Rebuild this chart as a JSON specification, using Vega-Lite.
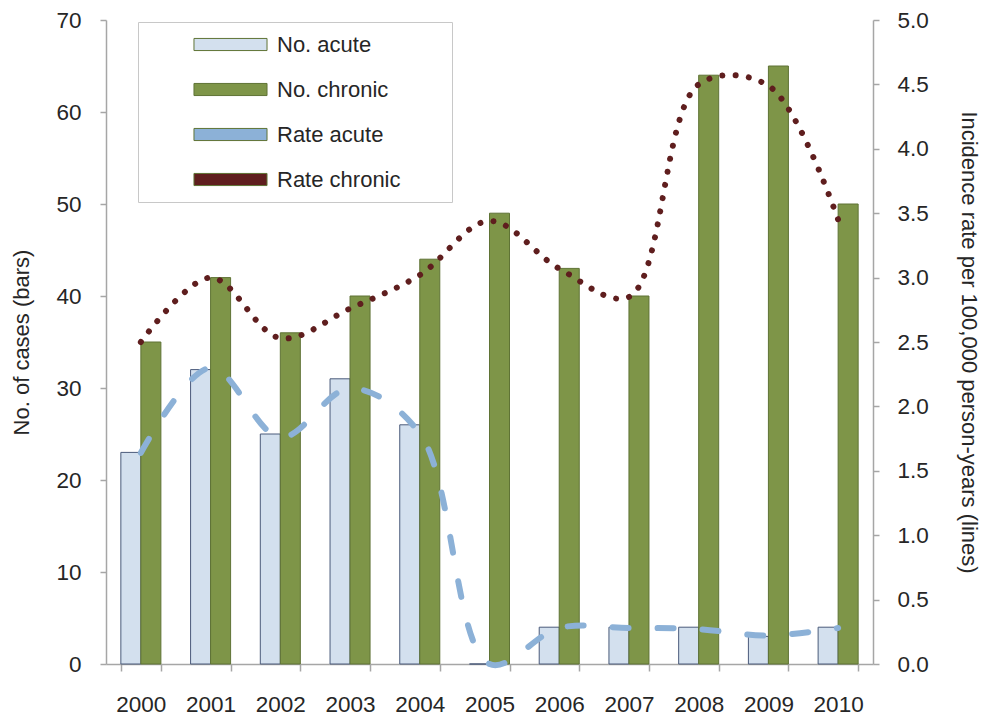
{
  "$schema": "https://vega.github.io/schema/vega-lite/v6.json",
  "width": 767,
  "height": 644,
  "autosize": {"type": "none"},
  "padding": {"left": 106, "top": 20, "right": 109, "bottom": 53},
  "background": "white",
  "config": {
    "view": {"stroke": null},
    "font": "Liberation Sans",
    "axis": {
      "labelFont": "Liberation Sans",
      "labelFontSize": 22.5,
      "labelColor": "#262626",
      "titleFont": "Liberation Sans",
      "titleFontSize": 22,
      "titleFontWeight": "normal",
      "titleColor": "#262626",
      "domainColor": "#a6a6a6",
      "tickColor": "#a6a6a6",
      "domainWidth": 1.5,
      "tickWidth": 1.5,
      "grid": false
    }
  },
  "datasets": {
    "counts": [
      {"year": "2000", "series": "No. acute", "cases": 23},
      {"year": "2001", "series": "No. acute", "cases": 32},
      {"year": "2002", "series": "No. acute", "cases": 25},
      {"year": "2003", "series": "No. acute", "cases": 31},
      {"year": "2004", "series": "No. acute", "cases": 26},
      {"year": "2005", "series": "No. acute", "cases": 0},
      {"year": "2006", "series": "No. acute", "cases": 4},
      {"year": "2007", "series": "No. acute", "cases": 4},
      {"year": "2008", "series": "No. acute", "cases": 4},
      {"year": "2009", "series": "No. acute", "cases": 3},
      {"year": "2010", "series": "No. acute", "cases": 4},
      {"year": "2000", "series": "No. chronic", "cases": 35},
      {"year": "2001", "series": "No. chronic", "cases": 42},
      {"year": "2002", "series": "No. chronic", "cases": 36},
      {"year": "2003", "series": "No. chronic", "cases": 40},
      {"year": "2004", "series": "No. chronic", "cases": 44},
      {"year": "2005", "series": "No. chronic", "cases": 49},
      {"year": "2006", "series": "No. chronic", "cases": 43},
      {"year": "2007", "series": "No. chronic", "cases": 40},
      {"year": "2008", "series": "No. chronic", "cases": 64},
      {"year": "2009", "series": "No. chronic", "cases": 65},
      {"year": "2010", "series": "No. chronic", "cases": 50}
    ],
    "rates": [
      {"year": "2000", "series": "Rate acute", "rate": 1.64},
      {"year": "2001", "series": "Rate acute", "rate": 2.30},
      {"year": "2002", "series": "Rate acute", "rate": 1.76},
      {"year": "2003", "series": "Rate acute", "rate": 2.14},
      {"year": "2004", "series": "Rate acute", "rate": 1.79},
      {"year": "2005", "series": "Rate acute", "rate": 0.0},
      {"year": "2006", "series": "Rate acute", "rate": 0.28},
      {"year": "2007", "series": "Rate acute", "rate": 0.28},
      {"year": "2008", "series": "Rate acute", "rate": 0.27},
      {"year": "2009", "series": "Rate acute", "rate": 0.22},
      {"year": "2010", "series": "Rate acute", "rate": 0.28},
      {"year": "2000", "series": "Rate chronic", "rate": 2.50},
      {"year": "2001", "series": "Rate chronic", "rate": 3.00},
      {"year": "2002", "series": "Rate chronic", "rate": 2.53},
      {"year": "2003", "series": "Rate chronic", "rate": 2.76},
      {"year": "2004", "series": "Rate chronic", "rate": 3.02},
      {"year": "2005", "series": "Rate chronic", "rate": 3.44},
      {"year": "2006", "series": "Rate chronic", "rate": 3.07},
      {"year": "2007", "series": "Rate chronic", "rate": 2.85},
      {"year": "2008", "series": "Rate chronic", "rate": 4.50},
      {"year": "2009", "series": "Rate chronic", "rate": 4.49},
      {"year": "2010", "series": "Rate chronic", "rate": 3.45}
    ]
  },
  "layer": [
    {
      "data": {"name": "counts"},
      "mark": {"type": "bar", "strokeWidth": 1},
      "encoding": {
        "x": {
          "field": "year",
          "type": "nominal",
          "scale": {"paddingInner": 0.426, "paddingOuter": 0.213},
          "axis": {"title": null, "labelAngle": 0, "tickBand": "extent", "tickSize": 7, "labelPadding": 22}
        },
        "xOffset": {
          "field": "series",
          "type": "nominal",
          "scale": {"domain": ["No. acute", "No. chronic"], "paddingInner": 0, "paddingOuter": 0}
        },
        "y": {
          "field": "cases",
          "type": "quantitative",
          "scale": {"domain": [0, 70], "nice": false},
          "axis": {
            "title": "No. of cases (bars)",
            "values": [0, 10, 20, 30, 40, 50, 60, 70],
            "tickSize": 6,
            "labelPadding": 19,
            "titlePadding": 22
          }
        },
        "color": {
          "field": "series",
          "type": "nominal",
          "scale": {
            "domain": ["No. acute", "No. chronic", "Rate acute", "Rate chronic"],
            "range": ["#d3e0ee", "#7e9548", "#8cb1d7", "#5f1e1e"]
          },
          "legend": {
            "title": null,
            "orient": "none",
            "legendX": 32,
            "legendY": 2,
            "padding": 11,
            "fillColor": "white",
            "strokeColor": "#c8c8c8",
            "labelFont": "Liberation Sans",
            "labelFontSize": 22,
            "labelColor": "#262626",
            "labelLimit": 400,
            "symbolType": "M18.9,0M-3.32,-0.55H3.32V0.55H-3.32Z",
            "symbolSize": 484,
            "symbolStrokeWidth": 1,
            "symbolOffset": 70,
            "labelOffset": 35,
            "rowPadding": 22
          }
        },
        "stroke": {
          "condition": {"test": "datum.series === 'No. acute'", "value": "#4a5a7a"},
          "value": "#5f7335"
        }
      }
    },
    {
      "data": {"name": "rates"},
      "mark": {"type": "line", "interpolate": "catmull-rom", "strokeWidth": 6, "strokeCap": "round"},
      "encoding": {
        "x": {"field": "year", "type": "nominal"},
        "y": {
          "field": "rate",
          "type": "quantitative",
          "scale": {"domain": [0, 5], "nice": false},
          "axis": {
            "orient": "right",
            "title": "Incidence rate per 100,000 person-years (lines)",
            "values": [0, 0.5, 1, 1.5, 2, 2.5, 3, 3.5, 4, 4.5, 5],
            "format": ".1f",
            "tickSize": 6,
            "labelPadding": 18,
            "titlePadding": 28
          }
        },
        "detail": {"field": "series", "type": "nominal"},
        "stroke": {
          "condition": {"test": "datum.series === 'Rate acute'", "value": "#8cb1d7"},
          "value": "#5f1e1e"
        },
        "strokeDash": {
          "field": "series",
          "type": "nominal",
          "scale": {"domain": ["Rate acute", "Rate chronic"], "range": [[16, 29], [0.01, 13.3]]},
          "legend": null
        }
      }
    }
  ],
  "resolve": {"scale": {"y": "independent"}}
}
